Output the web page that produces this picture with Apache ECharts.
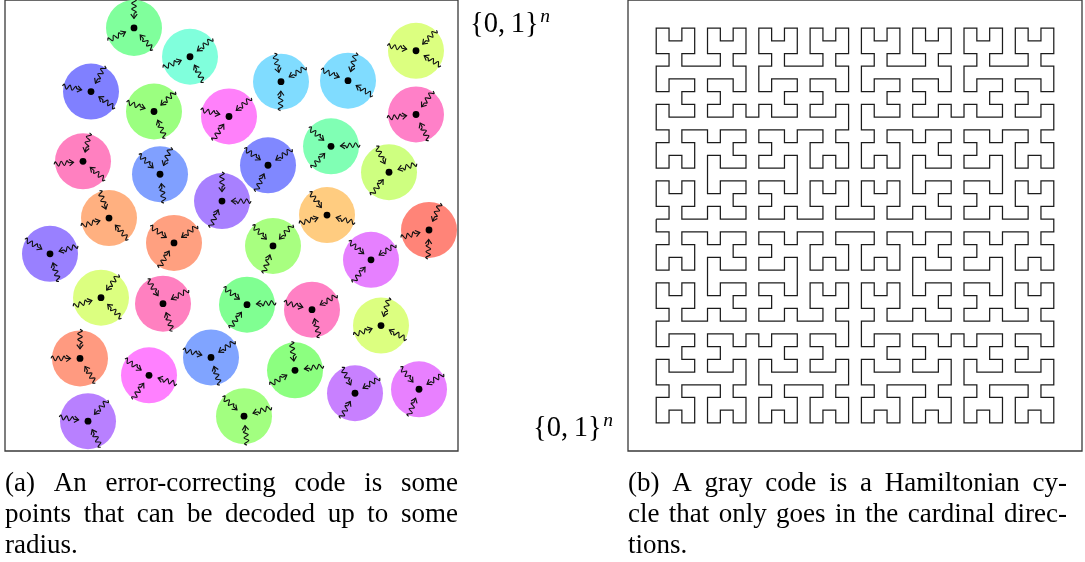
<!DOCTYPE html>
<html><head><meta charset="utf-8">
<script src="https://cdn.jsdelivr.net/npm/echarts@6/dist/echarts.min.js"></script>
<style>html,body{margin:0;padding:0;background:#fff}#c{width:1085px;height:562px}</style>
</head><body><div id="c"></div>
<script>
// ---- (a) code words: centres inside the square (x from left edge, y from top edge, box = 453 units)
const circleX = [129,185,86,149,224,276,343,411,411,326,263,384,78,155,217,104,322,424,169,45,268,366,96,158,242,307,376,75,206,144,290,350,414,83,239];
const circleY = [28,57,92,112,117,82,81,51,115,147,166,173,162,175,202,219,216,231,244,255,247,261,299,305,306,311,327,360,359,377,372,395,391,423,418];
const circleColors = ['#80ff9c','#80ffdc','#8080ff','#9bff80','#ff80fa','#80dcff','#80dcff','#dcff80','#ff80c8','#80ffb4',
  '#8088ff','#ceff80','#ff80c0','#80a0ff','#a880ff','#ffb080','#ffcc80','#ff8478','#ffa080','#9980ff',
  '#a8ff80','#e680ff','#dcff80','#ff80c0','#80ff92','#ff80c4','#dcff80','#ff9a80','#80a4ff','#ff80ff',
  '#8cff80','#c880ff','#e880ff','#b880ff','#a2ff80'];
// direction (degrees, counter-clockwise from east) of the tail of each of the three error arrows
const arrowAngles = [[90,206,311],[39,202,298],[62,169,326],[43,161,293],[40,167,236],[30,103,269],[74,158,329],[45,170,329],[54,187,296],[3,140,228],
  [34,145,245],[17,116,232],[77,186,320],[68,137,278],[0,90,246],[109,196,312],[127,197,345],[67,195,268],[36,145,239],[16,150,288],
  [47,135,251],[31,140,231],[53,197,315],[28,122,289],[4,144,234],[30,165,285],[74,199,332],[90,180,302],[34,165,288],[146,236,343],
  [9,97,210],[32,117,240],[32,130,249],[47,172,296],[18,138,276]];
const circleRadius = 28;
const boxSize = 453;

// ---- (b) Gray code: closed curve on a 32x32 grid made of four order-4 Hilbert quadrants
const hilbertSide = 16;
// quadrant placement: [colOffset, rowOffset, flipRows, reverse]
const quadrants = [[0,0,true,false],[16,0,true,false],[16,16,false,true],[0,16,false,true]];

const captionA = [['(a)','An','error-correcting','code','is','some'],['points','that','can','be','decoded','up','to','some'],['radius.']];
const captionB = [['(b)','A','gray','code','is','a','Hamiltonian','cy-'],['cle','that','only','goes','in','the','cardinal','direc-'],['tions.']];
const cubeLabel = '{0,\u20091}';
const cubeExp = 'n';

function rot(n, x, y, rx, ry) {
  if (ry === 0) { if (rx === 1) { x = n - 1 - x; y = n - 1 - y; } return [y, x]; }
  return [x, y];
}
function d2xy(n, d) {
  let x = 0, y = 0, t = d;
  for (let s = 1; s < n; s *= 2) {
    const rx = (t >> 1) & 1, ry = (t ^ rx) & 1;
    [x, y] = rot(s, x, y, rx, ry);
    x += s * rx; y += s * ry; t = Math.floor(t / 4);
  }
  return [x, y];
}
const grayPath = [];
quadrants.forEach(([co, ro, flip, rev]) => {
  const N = hilbertSide * hilbertSide;
  for (let k = 0; k < N; k++) {
    const d = rev ? N - 1 - k : k;
    const [x, y] = d2xy(hilbertSide, d);
    grayPath.push([co + x, ro + (flip ? hilbertSide - 1 - y : y)]);
  }
});
grayPath.push(grayPath[0]);

const chart = echarts.init(document.getElementById('c'), null, {renderer: 'canvas'});

function arrowShapes(cx, cy, deg, scale) {
  const a = deg * Math.PI / 180;
  const ux = Math.cos(a), uy = -Math.sin(a);
  const nx = -uy, ny = ux;
  const rT = 29 * scale, rS = 14.5 * scale, rP = 9.5 * scale, amp = 2.3 * scale;
  const pts = [];
  const segs = [0, 0.1, 0.3, 0.5, 0.7, 0.9, 1];
  const offs = [0, 1, -1, 1, -1, 1, 0];
  segs.forEach((s, i) => {
    const r = rT + (rS - rT) * s;
    pts.push([cx + ux * r + nx * amp * offs[i], cy + uy * r + ny * amp * offs[i]]);
  });
  const tip = [cx + ux * rP, cy + uy * rP];
  const back = 4.3 * scale, wing = 3.2 * scale;
  const w1 = [tip[0] + ux * back + nx * wing, tip[1] + uy * back + ny * wing];
  const w2 = [tip[0] + ux * back - nx * wing, tip[1] + uy * back - ny * wing];
  return [
    {type: 'polyline', shape: {points: pts, smooth: 0.35}, style: {stroke: '#111', lineWidth: 1.15, fill: null}},
    {type: 'line', shape: {x1: pts[pts.length - 1][0], y1: pts[pts.length - 1][1], x2: tip[0], y2: tip[1]}, style: {stroke: '#111', lineWidth: 1.15}},
    {type: 'polyline', shape: {points: [w1, tip, w2]}, style: {stroke: '#111', lineWidth: 1.15, fill: null}}
  ];
}

const measure = document.createElement('canvas').getContext('2d');
const capSize = 27;
const capFont = capSize + 'px "Liberation Serif"';
function justify(lines, x0, x1, base, gap) {
  measure.font = capFont;
  const out = [];
  const sp = measure.measureText(' ').width * 1.1;
  lines.forEach((words, li) => {
    const widths = words.map(w => measure.measureText(w).width);
    const total = widths.reduce((a, b) => a + b, 0);
    const last = li === lines.length - 1;
    const g = last || words.length < 2 ? sp : (x1 - x0 - total) / (words.length - 1);
    let x = x0;
    words.forEach((w, i) => {
      out.push({type: 'text', x: x, y: base + li * gap - 0.305 * capSize, style: {text: w, font: capFont, fill: '#000', verticalAlign: 'middle'}});
      x += widths[i] + g;
    });
  });
  return out;
}
function cubeText(x, baseline) {
  const size = 28.5, f = size + 'px "Liberation Serif"';
  measure.font = f;
  const w = measure.measureText(cubeLabel).width;
  const es = 19.5;
  return [
    {type: 'text', x: x, y: baseline - 0.305 * size, style: {text: cubeLabel, font: f, fill: '#000', verticalAlign: 'middle'}},
    {type: 'text', x: x + w + 1.5, y: baseline - 10 - 0.305 * es, style: {text: cubeExp, font: 'italic ' + es + 'px "Liberation Serif"', fill: '#000', verticalAlign: 'middle'}}
  ];
}

const graphics = [].concat(
  justify(captionA, 5, 458, 491.7, 31.3),
  justify(captionB, 628, 1067, 491.7, 31.3),
  cubeText(470, 33),
  cubeText(533, 437)
);

chart.setOption({
  animation: false,
  grid: [
    {left: 5, top: -2, width: boxSize, height: boxSize, show: true, borderColor: '#3a3a3a', borderWidth: 1.3, backgroundColor: 'transparent'},
    {left: 628, top: -3, width: 454, height: 454, show: true, borderColor: '#3a3a3a', borderWidth: 1.3, backgroundColor: 'transparent'}
  ],
  xAxis: [
    {gridIndex: 0, type: 'value', min: 0, max: boxSize, show: false},
    {gridIndex: 1, type: 'value', min: -2.2, max: 33.2, show: false}
  ],
  yAxis: [
    {gridIndex: 0, type: 'value', min: 0, max: boxSize, inverse: true, show: false},
    {gridIndex: 1, type: 'value', min: -2.2, max: 33.2, inverse: true, show: false}
  ],
  series: [
    {
      type: 'custom', xAxisIndex: 0, yAxisIndex: 0,
      data: circleX.map((x, i) => [x, circleY[i], i]),
      renderItem: function (params, api) {
        const c = api.coord([api.value(0), api.value(1)]);
        const idx = api.value(2);
        const scale = api.size([circleRadius, 0])[0] / circleRadius;
        const children = [{type: 'circle', shape: {cx: c[0], cy: c[1], r: circleRadius * scale}, style: {fill: circleColors[idx]}}];
        arrowAngles[idx].forEach(a => { children.push(...arrowShapes(c[0], c[1], a, scale)); });
        children.push({type: 'circle', shape: {cx: c[0], cy: c[1], r: 3.4 * scale}, style: {fill: '#000'}});
        return {type: 'group', children: children};
      }
    },
    {
      type: 'line', xAxisIndex: 1, yAxisIndex: 1, data: grayPath,
      showSymbol: false, symbol: 'none', silent: true,
      lineStyle: {color: '#1c1c1c', width: 1.25, join: 'miter'}
    }
  ],
  graphic: graphics
});
</script></body></html>
